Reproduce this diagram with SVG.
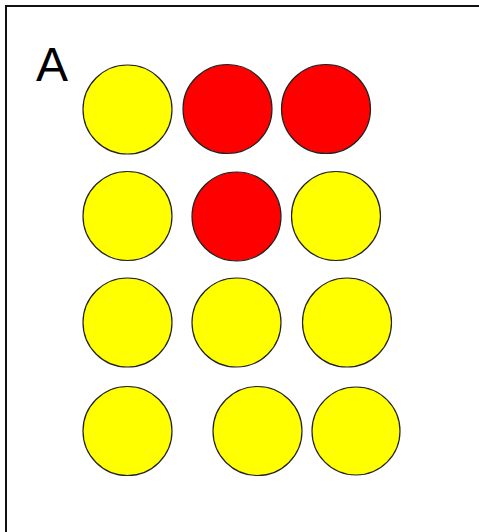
<svg xmlns="http://www.w3.org/2000/svg" width="479" height="532" viewBox="0 0 479 532">
<style>
.y{fill:#ffff00;stroke:#222;stroke-width:1.2}
.r{fill:#ff0000;stroke:#222;stroke-width:1.2}
.frame{stroke:#111;stroke-width:2;fill:none}
.lbl{font-family:"Liberation Sans",Arial,sans-serif;font-size:48px;fill:#000}
</style>
<rect width="479" height="532" fill="#fff"/>
<g id="frame"><path class="frame" d="M6,532 V6 H479"/></g>
<text id="label-A" class="lbl" x="36" y="81">A</text>
<g id="r1c1"><circle class="y" cx="127.5" cy="109.5" r="44.5"/></g>
<g id="r1c2"><circle class="r" cx="227.5" cy="109" r="44.5"/></g>
<g id="r1c3"><circle class="r" cx="326" cy="109" r="44.5"/></g>
<g id="r2c1"><circle class="y" cx="127.5" cy="216" r="44.5"/></g>
<g id="r2c2"><circle class="r" cx="236.5" cy="216.5" r="44.5"/></g>
<g id="r2c3"><circle class="y" cx="336" cy="216" r="44.5"/></g>
<g id="r3c1"><circle class="y" cx="127.5" cy="322.5" r="44.5"/></g>
<g id="r3c2"><circle class="y" cx="236.5" cy="322.5" r="44.5"/></g>
<g id="r3c3"><circle class="y" cx="347" cy="322.5" r="44.5"/></g>
<g id="r4c1"><circle class="y" cx="127.5" cy="431" r="44.5"/></g>
<g id="r4c2"><circle class="y" cx="257.5" cy="431" r="44.5"/></g>
<g id="r4c3"><circle class="y" cx="356" cy="431" r="44"/></g>
<g id="connectors"></g>
</svg>
